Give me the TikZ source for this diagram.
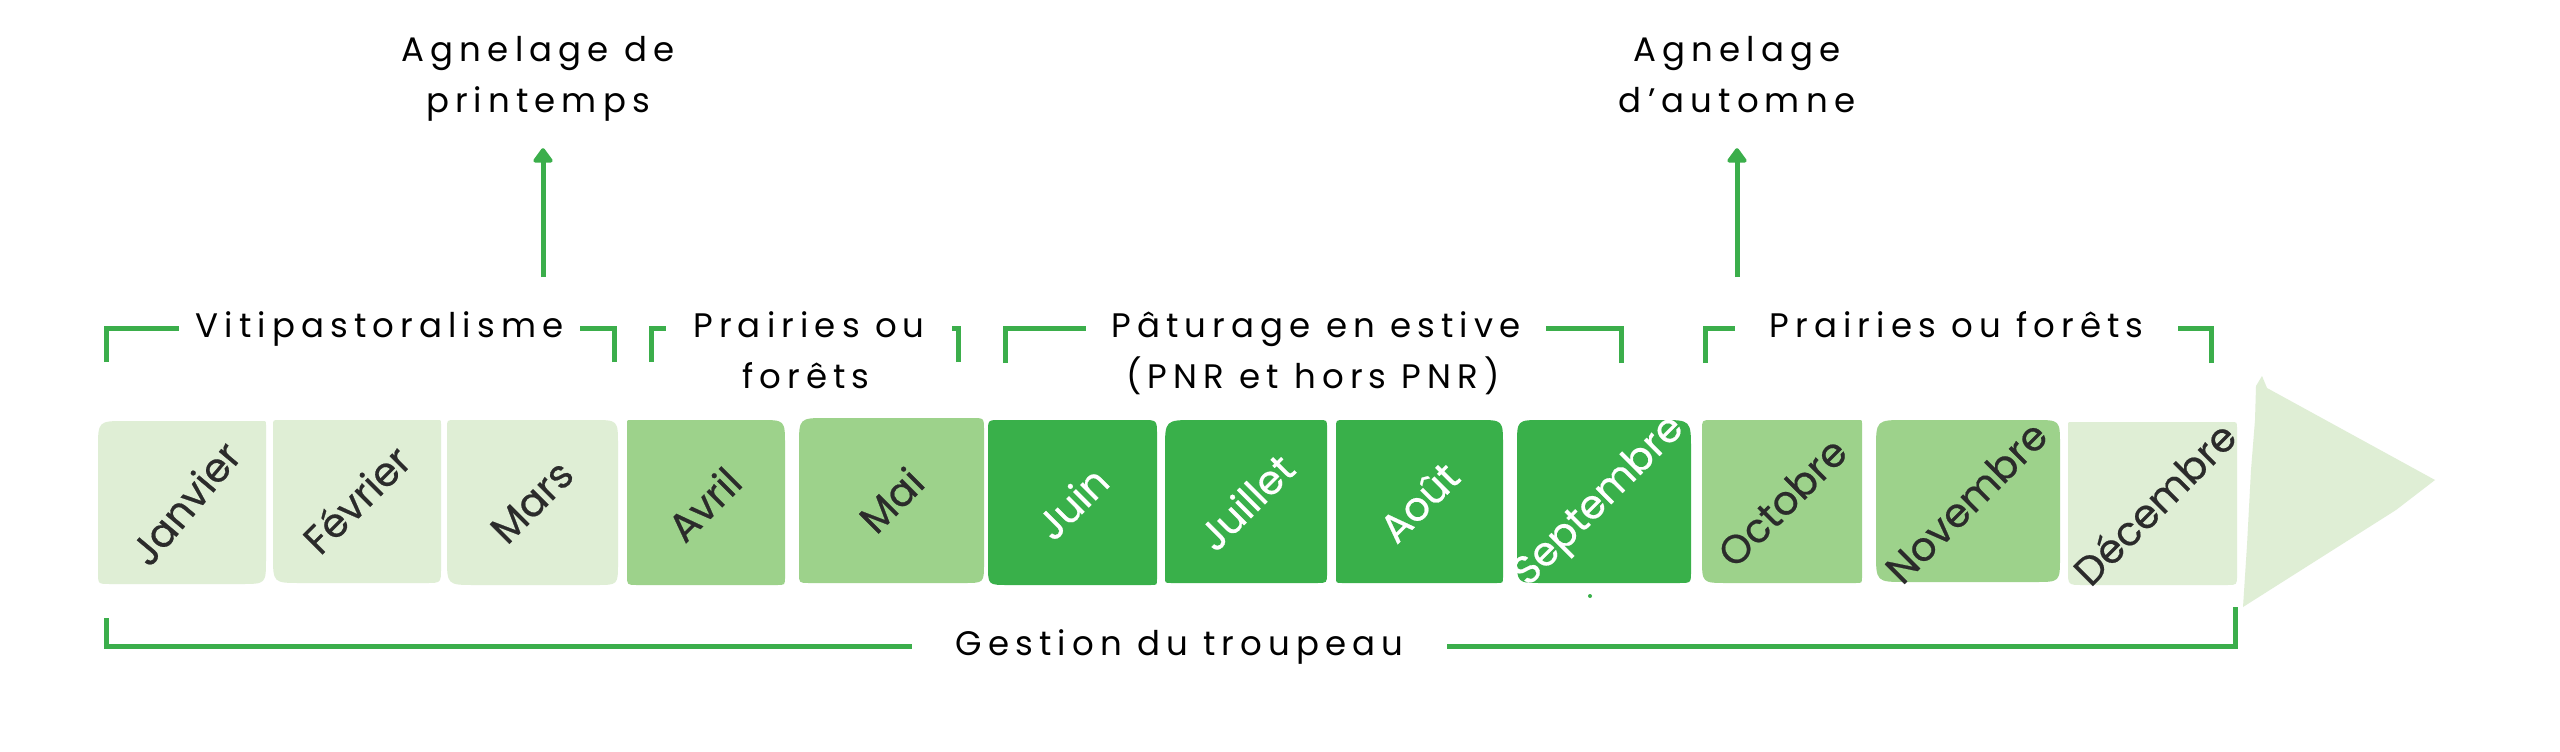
\documentclass[tikz,border=0pt]{standalone}
\usepackage{fontspec}
\setmainfont{Poppins}
\newfontfamily\lblfont{Poppins}[LetterSpace=18]
\newfontfamily\monfont{Poppins}[FakeBold=0.5]
\usetikzlibrary{arrows.meta}
\definecolor{pale}{HTML}{DFEED5}
\definecolor{mid}{HTML}{9DD28B}
\definecolor{dark}{HTML}{39B04A}
\definecolor{lgreen}{HTML}{3BAE4B}
\definecolor{montxt}{HTML}{2B2B2B}
% #1 colour, #2 x1, #3 y1, #4 x2, #5 y2, #6 r top-left, #7 r top-right, #8 r bottom-right, #9 r bottom-left
\newcommand\monthshape[9]{%
 \fill[#1] ({(#2+#4)/2},#3) -- ({#4-#7},#3) .. controls (#4,#3) .. (#4,{#3+#7})
   -- (#4,{#5-#8}) .. controls (#4,#5) .. ({#4-#8},#5)
   -- ({#2+#9},#5) .. controls (#2,#5) .. (#2,{#5-#9})
   -- (#2,{#3+#6}) .. controls (#2,#3) .. ({#2+#6},#3) -- cycle;}
\tikzset{
  brk/.style={line width=5pt, draw=lgreen},
  upar/.style={line width=5pt, draw=lgreen, -{Triangle[width=22pt,length=16pt,round]}, shorten >=27pt},
  lbl/.style={font=\lblfont\fontsize{34}{40}\selectfont, inner sep=0pt, text height=25pt, text depth=8pt, anchor=base},
  mon/.style={font=\monfont\fontsize{40}{44}\selectfont, rotate=45, inner sep=0pt},
}
\begin{document}
\begin{tikzpicture}[x=1pt,y=-1pt]
\useasboundingbox (0,0) rectangle (2560,752);
\fill[white] (0,0) rectangle (2560,752);

% month boxes
\monthshape{pale}{98}{421}{266}{584}{28}{4}{25}{12}
\monthshape{pale}{273}{420}{441}{583}{6}{4}{15}{28}
\monthshape{pale}{447}{420}{618}{585}{8}{25}{22}{28}
\monthshape{mid}{627}{420}{785}{585}{4}{25}{8}{10}
\monthshape{mid}{799}{418}{984}{583}{28}{12}{20}{10}
\monthshape{dark}{988}{420}{1157}{585}{12}{15}{6}{20}
\monthshape{dark}{1165}{420}{1327}{583}{30}{8}{10}{6}
\monthshape{dark}{1336}{420}{1503}{583}{8}{25}{6}{6}
\monthshape{dark}{1517}{420}{1691}{583}{25}{30}{12}{25}
\monthshape{mid}{1702}{420}{1862}{583}{10}{4}{6}{25}
\monthshape{mid}{1876}{420}{2060}{582}{30}{25}{25}{30}
\monthshape{pale}{2068}{422}{2237}{585}{4}{6}{10}{15}

% big arrow head
\fill[pale] (2256,386) -- (2262,376) -- (2267,388) -- (2435,480) -- (2396,510)
  -- (2243,607) -- (2247,545) -- (2251,470) -- (2255,420) -- cycle;
\fill[dark] (1590,596) circle (2pt);

% month labels
\node[mon,text=montxt,rotate=5] (jan)  at (185,503) {Janvier};
\node[mon,text=montxt] (feb)  at (356,499) {Février};
\node[mon,text=montxt] (mar)  at (532,502) {Mars};
\node[mon,text=montxt] (avr)  at (704,504) {Avril};
\node[mon,text=montxt] (mai)  at (891,500) {Mai};
\node[mon,text=white]  (jun)  at (1072,503) {Juin};
\node[mon,text=white]  (jul)  at (1246,502) {Juillet};
\node[mon,text=white]  (aou)  at (1419,502) {Août};
\node[mon,text=white]  (sep)  at (1600,502) {Septembre};
\node[mon,text=montxt] (oct)  at (1782,502) {Octobre};
\node[mon,text=montxt] (nov)  at (1966,502) {Novembre};
\node[mon,text=montxt] (dec)  at (2154,503) {Décembre};

% top labels
\node[lbl] (agn1a) at (538,62) {Agnelage de};
\node[lbl] (agn1b) at (538,113) {printemps};
\node[lbl] (agn2a) at (1737,62) {Agnelage};
\node[lbl] (agn2b) at (1737,113) {d’automne};
\coordinate (a1) at (543,277);
\coordinate (a2) at (1737,277);
\draw[upar] (a1) -- (a1 |- agn1b.south);
\draw[upar] (a2) -- (a2 |- agn2b.south);

% period brackets
\node[lbl, minimum width=401pt] (viti) at (379.5,337) {Vitipastoralisme};
\coordinate (v1) at (106,362);
\coordinate (v2) at (614,362);
\draw[brk] (v1) |- (viti.west);
\draw[brk] (v2) |- (viti.east);

\node[lbl, minimum width=286pt] (pra1) at (809,337) {Prairies ou};
\node[lbl] (pra1b) at (806,388) {forêts};
\coordinate (p1) at (651,362);
\coordinate (p2) at (958,362);
\draw[brk] (p1) |- (pra1.west);
\draw[brk] (p2) |- (pra1.east);

\node[lbl, minimum width=460pt] (patu) at (1316,337) {Pâturage en estive};
\node[lbl] (patub) at (1313,388) {(PNR et hors PNR)};
\coordinate (e1) at (1005,363);
\coordinate (e2) at (1621,363);
\draw[brk] (e1) |- (patu.west);
\draw[brk] (e2) |- (patu.east);

\node[lbl, minimum width=443pt] (pra2) at (1956.5,337) {Prairies ou forêts};
\coordinate (q1) at (1705,363);
\coordinate (q2) at (2211,363);
\draw[brk] (q1) |- (pra2.west);
\draw[brk] (q2) |- (pra2.east);

% bottom bracket
\node[lbl, minimum width=535pt] (gest) at (1179.5,655) {Gestion du troupeau};
\coordinate (g1) at (106,618);
\coordinate (g2) at (2235,607);
\draw[brk] (g1) |- (gest.west);
\draw[brk] (g2) |- (gest.east);
\end{tikzpicture}
\end{document}
